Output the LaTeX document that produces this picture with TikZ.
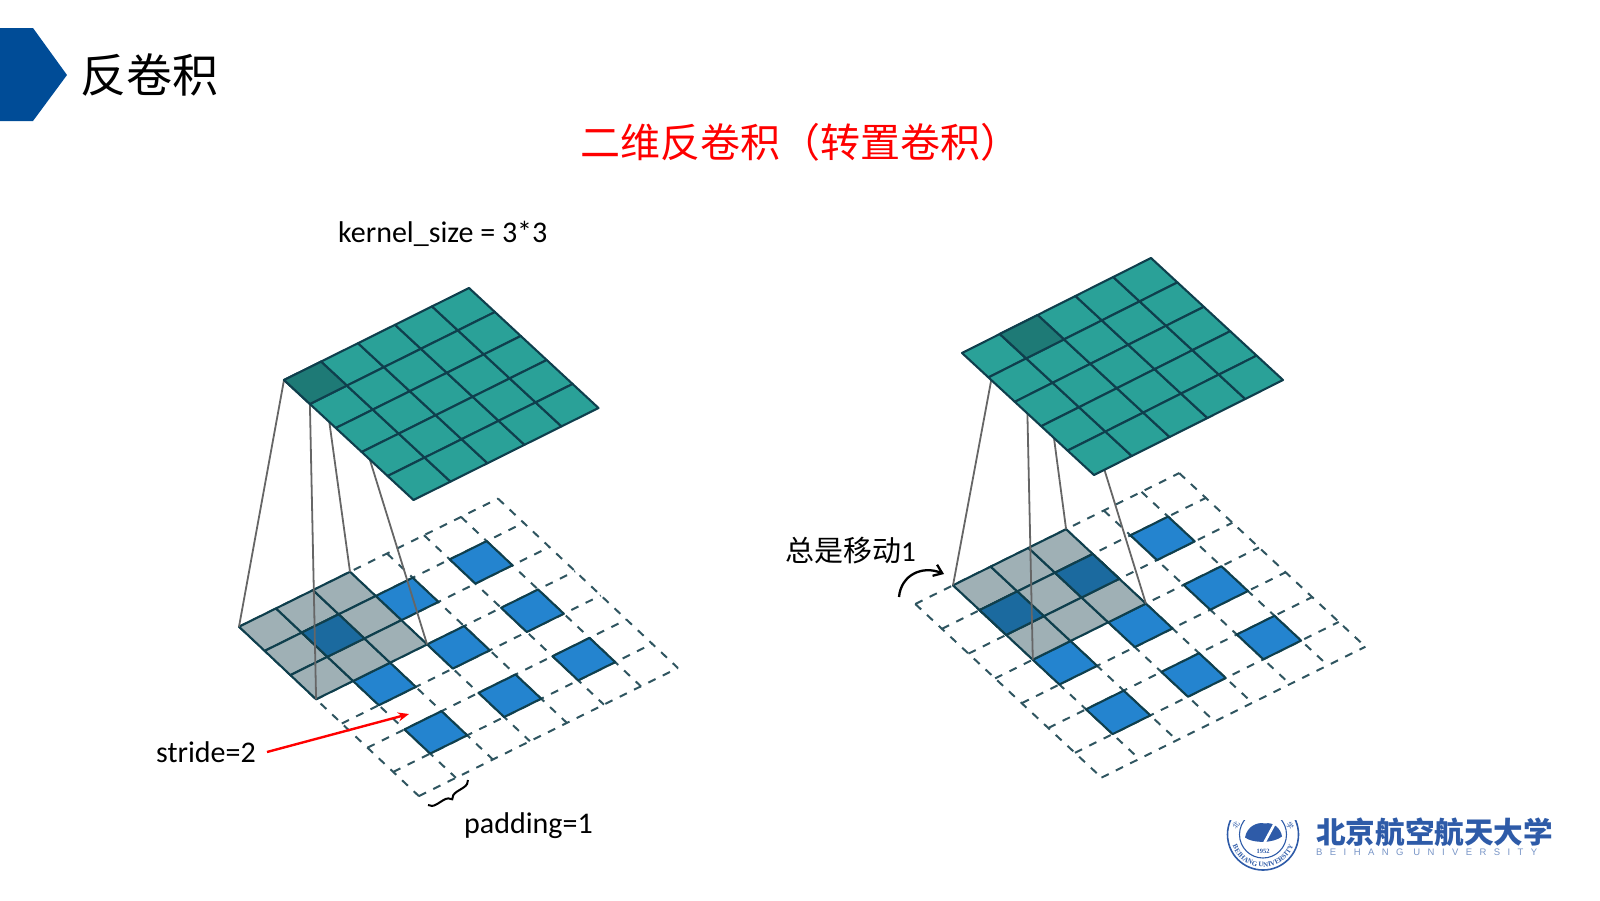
\documentclass[tikz,border=0pt]{standalone}
\usepackage{fontspec}
\setmainfont{Carlito}
\newfontfamily\cjk{Noto Sans CJK SC}
\newfontfamily\sealfont{Liberation Serif}
\newfontfamily\logofont[LetterSpace=78]{Liberation Sans}
\usetikzlibrary{arrows.meta,calc,decorations.pathreplacing,decorations.text}
\definecolor{headblue}{HTML}{004C97}
\definecolor{gridink}{HTML}{0F3F4D}
\definecolor{dashink}{HTML}{2F5560}
\definecolor{teal}{HTML}{2AA198}
\definecolor{darkteal}{HTML}{1E7A76}
\definecolor{cellblue}{HTML}{2484CF}
\definecolor{celldark}{HTML}{1B6A9F}
\definecolor{kernelgray}{HTML}{9FB0B5}
\definecolor{linkgray}{HTML}{666666}
\definecolor{logoblue}{HTML}{2E5BA8}
\tikzset{
label/.style={inner sep=0pt,font=\fontsize{30}{32}\selectfont},
dashline/.style={draw=dashink,line width=2pt,dash pattern=on 8pt off 8pt},
bluecell/.style={fill=cellblue,draw=gridink,line width=2.1pt,line join=round},
graycell/.style={fill=kernelgray,draw=gridink,line width=2.1pt,line join=round},
darkcell/.style={fill=celldark,draw=gridink,line width=2.1pt,line join=round},
topcell/.style={fill=teal,draw=gridink,line width=2.1pt,line join=round},
topdark/.style={fill=darkteal,draw=gridink,line width=2.1pt,line join=round},
linkline/.style={draw=linkgray,line width=1.8pt}
}
\begin{document}
\begin{tikzpicture}[x=1pt,y=-1pt]
\useasboundingbox (0,0) rectangle (1600,900);
% header
\fill[headblue] (0,28) -- (33,28) -- (67,75) -- (33,121) -- (0,121) -- cycle;
\node[inner sep=0pt,anchor=west,font=\cjk\fontsize{46}{48}\selectfont] (title) at (80,75) {反卷积};
\node[inner sep=0pt,anchor=west,text=red,font=\cjk\fontsize{40}{42}\selectfont] (subtitle) at (580,142) {二维反卷积（转置卷积）};
% left input
\begin{scope}[shift={(239,626.7)},x={(37pt,18.3pt)},y={(25.7pt,-24.2pt)}]
\foreach \i in {0,...,7}{
\draw[dashline] (\i,0) -- (\i,7);
\draw[dashline] (0,\i) -- (7,\i);
}
\foreach \i in {1,3,5}
\foreach \j in {1,3,5}
\draw[bluecell] (\i,\j) -- +(1,0) -- +(1,1) -- +(0,1) -- cycle;
\foreach \i in {0,1,2}
\foreach \j in {0,1,2}
\draw[graycell] (\i,\j) -- +(1,0) -- +(1,1) -- +(0,1) -- cycle;
\draw[darkcell] (1,1) -- +(1,0) -- +(1,1) -- +(0,1) -- cycle;
\coordinate (lkleft) at (0,0);
\coordinate (lktop) at (3,0);
\coordinate (lkright) at (3,3);
\coordinate (lkbottom) at (0,3);
\end{scope}
% left output
\begin{scope}[shift={(284,380)},x={(37pt,18.4pt)},y={(25.9pt,-24pt)}]
\coordinate (ltleft) at (0,0);
\coordinate (lttop) at (1,0);
\coordinate (ltright) at (1,1);
\coordinate (ltbottom) at (0,1);
\draw[linkline] (ltleft) -- (lkleft);
\draw[linkline] (ltbottom) -- (lkbottom);
\draw[linkline] (lttop) -- (lktop);
\draw[linkline] (ltright) -- (lkright);
\foreach \i in {0,...,4}
\foreach \j in {0,...,4}
\draw[topcell] (\i,\j) -- +(1,0) -- +(1,1) -- +(0,1) -- cycle;
\draw[topdark] (0,0) -- +(1,0) -- +(1,1) -- +(0,1) -- cycle;
\end{scope}
% right input
\begin{scope}[shift={(915.3,604)},x={(37.7pt,18.7pt)},y={(26.6pt,-24.8pt)}]
\foreach \i in {0,...,7}{
\draw[dashline] (\i,0) -- (\i,7);
\draw[dashline] (0,\i) -- (7,\i);
}
\foreach \i in {1,3,5}
\foreach \j in {1,3,5}
\draw[bluecell] (\i,\j) -- +(1,0) -- +(1,1) -- +(0,1) -- cycle;
\foreach \i in {1,2,3}
\foreach \j in {0,1,2}
\draw[graycell] (\i,\j) -- +(1,0) -- +(1,1) -- +(0,1) -- cycle;
\draw[darkcell] (1,1) -- +(1,0) -- +(1,1) -- +(0,1) -- cycle;
\draw[darkcell] (3,1) -- +(1,0) -- +(1,1) -- +(0,1) -- cycle;
\coordinate (rkleft) at (1,0);
\coordinate (rktop) at (4,0);
\coordinate (rkright) at (4,3);
\coordinate (rkbottom) at (1,3);
\end{scope}
% right output
\begin{scope}[shift={(962,353)},x={(37.8pt,19pt)},y={(26.4pt,-24.4pt)}]
\coordinate (rtleft) at (1,0);
\coordinate (rttop) at (2,0);
\coordinate (rtright) at (2,1);
\coordinate (rtbottom) at (1,1);
\draw[linkline] (rtleft) -- (rkleft);
\draw[linkline] (rtbottom) -- (rkbottom);
\draw[linkline] (rttop) -- (rktop);
\draw[linkline] (rtright) -- (rkright);
\foreach \i in {0,...,4}
\foreach \j in {0,...,4}
\draw[topcell] (\i,\j) -- +(1,0) -- +(1,1) -- +(0,1) -- cycle;
\draw[topdark] (1,0) -- +(1,0) -- +(1,1) -- +(0,1) -- cycle;
\end{scope}
% labels
\node[label,anchor=west] (kernel) at (338,234) {kernel\_size = 3*3};
\node[label,anchor=base west] (stride) at (156,762) {stride=2};
\node[label,anchor=base west] (padding) at (464,833) {padding=1};
\node[label,anchor=west,font=\cjk\fontsize{29}{31}\selectfont] (shift) at (785,551) {总是移动{\rmfamily 1}};
\coordinate (stridefrom) at (267,752);
\coordinate (strideto) at (409,714);
\draw[-{Stealth[length=11pt,width=9pt]},red,line width=2.4pt] (stridefrom) -- (strideto);
\coordinate (padA) at (468,780);
\coordinate (padB) at (428,805);
\draw[decorate,decoration={brace,amplitude=8pt},line width=2pt] (padA) -- (padB);
\coordinate (shiftfrom) at (899,597);
\coordinate (shiftto) at (944,574);
\draw[-{Straight Barb[length=8pt,width=12pt]},line width=2.3pt] (shiftfrom) .. controls (901,575) and (922,565) .. (shiftto);
% logo
\begin{scope}[shift={(1263,834.5)},y=1pt]
\clip (-40,14.5) rectangle (40,-40);
\draw[logoblue,line width=1.6pt] (0,0) circle (35.5);
\draw[logoblue,line width=1.1pt] (0,0) circle (23.5);
\fill[logoblue] (-18,-3) .. controls (-16,8) and (-6,13) .. (2,11) .. controls (10,13) and (18,6) .. (19,-2) .. controls (10,-9) and (-10,-9) .. (-18,-3) -- cycle;
\draw[white,line width=2.6pt] (12,11.5) -- (-1,-12.5);
\node[inner sep=0pt,text=logoblue,font=\sealfont\bfseries\fontsize{6.5}{7}\selectfont] (sealyear) at (0,-17) {1952};
\path[decorate,decoration={text along path,text align=center,text={|\sealfont\bfseries\fontsize{7}{8}\selectfont\color{logoblue}|BEIHANG UNIVERSITY}}] (195:32.5) arc (195:345:32.5);
\node[inner sep=0pt,rotate=55,text=logoblue,font=\cjk\fontsize{7}{8}\selectfont] (sealleft) at (-27,9) {北};
\node[inner sep=0pt,rotate=-55,text=logoblue,font=\cjk\fontsize{7}{8}\selectfont] (sealright) at (27,9) {学};
\end{scope}
\node[inner sep=0pt,anchor=west,text=logoblue,font=\cjk\bfseries\fontsize{29.6}{31}\selectfont] (logotext) at (1316,832) {北京航空航天大学};
\node[inner sep=0pt,anchor=west,text=logoblue!65,font=\logofont\fontsize{9.5}{10}\selectfont] (logosub) at (1316,852) {BEIHANG UNIVERSITY};
\end{tikzpicture}
\end{document}
